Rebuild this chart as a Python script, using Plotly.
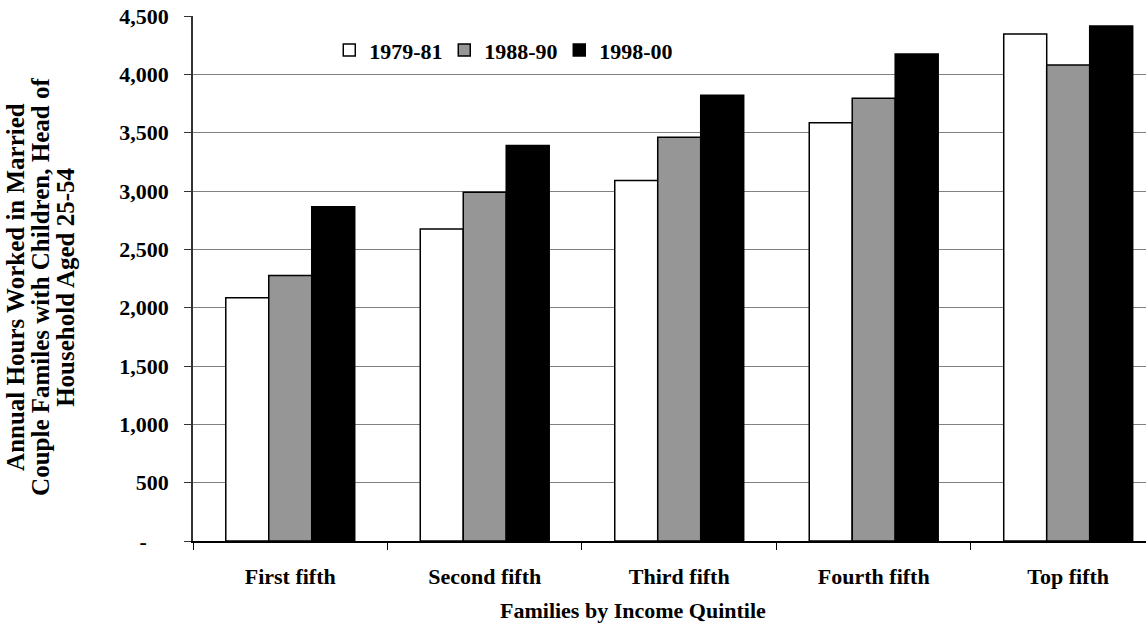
import plotly.graph_objects as go

categories = ["First fifth", "Second fifth", "Third fifth", "Fourth fifth", "Top fifth"]
series_names = ["1979-81", "1988-90", "1998-00"]
vals_1979_81 = [2085, 2675, 3090, 3585, 4345]
vals_1988_90 = [2275, 2990, 3460, 3795, 4080]
vals_1998_00 = [2865, 3390, 3820, 4175, 4415]
colors = ["#ffffff", "#969696", "#000000"]
y_tickvals = [0, 500, 1000, 1500, 2000, 2500, 3000, 3500, 4000, 4500]
y_ticktext = ["-\u00a0\u00a0\u00a0\u00a0", "500", "1,000", "1,500", "2,000", "2,500",
              "3,000", "3,500", "4,000", "4,500"]
y_title_lines = ["Annual Hours Worked in Married",
                 "Couple Familes with Children, Head of",
                 "Household Aged 25-54"]
x_title = "Families by Income Quintile"

FONT = "Liberation Serif, Times New Roman, serif"

fig = go.Figure()
for name, vals, col in zip(series_names, [vals_1979_81, vals_1988_90, vals_1998_00], colors):
    fig.add_trace(go.Bar(
        x=categories, y=vals, name=name,
        marker=dict(color=col, line=dict(color="#000000", width=1.5)),
    ))

annotations = []
for i, line in enumerate(y_title_lines):
    annotations.append(dict(
        text=line, xref="paper", yref="paper", x=-0.1857 + i * 0.0262, y=0.484,
        xanchor="center", yanchor="middle", textangle=-90, showarrow=False,
        font=dict(family=FONT, size=25, weight="bold")))
annotations.append(dict(
    text=x_title, xref="paper", yref="paper", x=0.4617, y=-0.1333,
    xanchor="center", yanchor="middle", showarrow=False,
    font=dict(family=FONT, size=22, weight="bold")))

fig.update_layout(
    width=1146, height=626,
    margin=dict(l=193, r=0, t=16, b=85),
    paper_bgcolor="white", plot_bgcolor="white",
    font=dict(family=FONT, size=22, color="black", weight="bold"),
    barmode="group", bargap=0.337, bargroupgap=0,
    showlegend=True,
    legend=dict(orientation="h", x=0.143, y=0.935, xanchor="left", yanchor="middle",
                bgcolor="rgba(0,0,0,0)", font=dict(size=22, family=FONT, weight="bold"),
                itemwidth=30, traceorder="normal", entrywidth=70, entrywidthmode="pixels"),
    xaxis=dict(
        type="category", categoryorder="array", categoryarray=categories,
        range=[-0.5, 4.4], tickson="boundaries", ticks="outside", ticklen=7,
        tickcolor="#000000", showline=True, linecolor="#000000", linewidth=1.5,
        showgrid=False, zeroline=False, ticklabelstandoff=15,
    ),
    yaxis=dict(
        range=[0, 4500], tickvals=y_tickvals, ticktext=y_ticktext,
        ticks="outside", ticklen=7, tickcolor="#333333",
        showline=True, linecolor="#333333", linewidth=1.5,
        showgrid=True, gridcolor="#808080", gridwidth=1.2, zeroline=False,
        ticklabelstandoff=11,
    ),
    annotations=annotations,
)

fig.write_html("out.html", config={"displayModeBar": False},
               post_script="document.body.style.margin='0';document.body.style.overflow='hidden';")
